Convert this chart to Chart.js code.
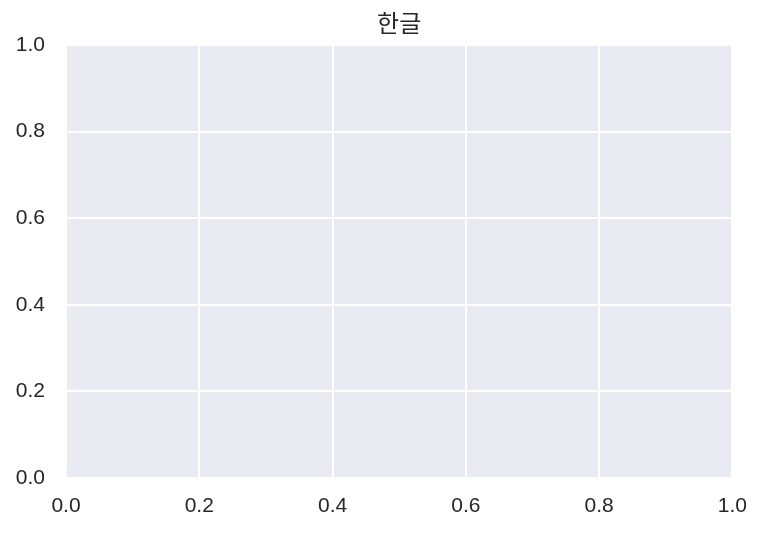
<!DOCTYPE html>
<html>
<head>
<meta charset="utf-8">
<script src="https://cdn.jsdelivr.net/npm/chart.js@4/dist/chart.umd.min.js"></script>
<style>
html,body{margin:0;padding:0;background:#fff;}
#c{display:block;}
</style>
</head>
<body>
<canvas id="c" width="763" height="533"></canvas>
<script>
const titleText = "한글";
const xTicks = [0.0, 0.2, 0.4, 0.6, 0.8, 1.0];
const yTicks = [0.0, 0.2, 0.4, 0.6, 0.8, 1.0];
const points = [];

const bgPlugin = {
  id: 'bg',
  beforeDraw(chart) {
    const {ctx, chartArea: a} = chart;
    ctx.save();
    ctx.fillStyle = '#EAEAF2';
    ctx.fillRect(a.left, a.top, a.right - a.left, a.bottom - a.top);
    ctx.restore();
  }
};

// Title centred over the plot area (matplotlib style)
const axTitlePlugin = {
  id: 'axTitle',
  afterDraw(chart, args, opts) {
    const {ctx, chartArea: a} = chart;
    ctx.save();
    ctx.fillStyle = '#262626';
    ctx.font = "24px 'Noto Sans CJK KR', sans-serif";
    ctx.textAlign = 'center';
    ctx.textBaseline = 'middle';
    ctx.fillText(opts.text, (a.left + a.right) / 2, 23);
    ctx.restore();
  }
};

const tickFont = {family: "'Liberation Sans', Arial, sans-serif", size: 21};

new Chart(document.getElementById('c'), {
  type: 'scatter',
  data: {datasets: [{data: points, pointRadius: 0}]},
  options: {
    responsive: false,
    animation: false,
    devicePixelRatio: 1,
    layout: {padding: {left: 0, right: 30, top: 45, bottom: 0}},
    plugins: {
      legend: {display: false},
      tooltip: {enabled: false},
      title: {display: false},
      axTitle: {text: titleText}
    },
    scales: {
      x: {
        type: 'linear', min: 0, max: 1,
        afterBuildTicks(s) { s.ticks = xTicks.map(v => ({value: v})); },
        afterFit(s) { s.height = 55; },
        border: {display: false},
        grid: {color: '#ffffff', lineWidth: 2, drawTicks: false},
        ticks: {color: '#262626', font: tickFont, padding: 16, maxRotation: 0,
                callback: v => Number(v).toFixed(1)}
      },
      y: {
        type: 'linear', min: 0, max: 1,
        afterBuildTicks(s) { s.ticks = yTicks.map(v => ({value: v})); },
        afterFit(s) { s.width = 66; },
        border: {display: false},
        grid: {color: '#ffffff', lineWidth: 2, drawTicks: false},
        ticks: {color: '#262626', font: tickFont, padding: 21,
                callback: v => Number(v).toFixed(1)}
      }
    }
  },
  plugins: [bgPlugin, axTitlePlugin]
});
</script>
</body>
</html>
